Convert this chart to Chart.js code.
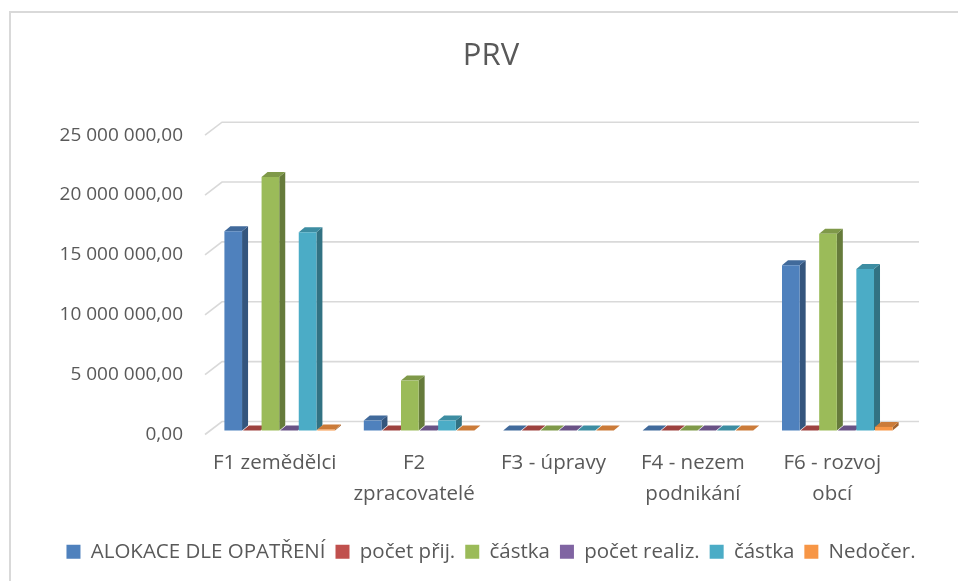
<!DOCTYPE html>
<html>
<head>
<meta charset="utf-8">
<script src="https://cdn.jsdelivr.net/npm/chart.js@4.4.1/dist/chart.umd.min.js"></script>
<style>
  html, body { margin: 0; padding: 0; background: #fff; }
  #wrap { width: 958px; height: 581px; }
</style>
</head>
<body>
<div id="wrap"><canvas id="prvChart" width="958" height="581"></canvas></div>
<script>
// categories (x axis), multi-line where the reference wraps
const categories = [
  ['F1 zemědělci'],
  ['F2', 'zpracovatelé'],
  ['F3 - úpravy'],
  ['F4 - nezem', 'podnikání'],
  ['F6 - rozvoj', 'obcí']
];

// series values
const alokace      = [16640000, 830000, 0, 0, 13800000];
const pocetPrij    = [0, 0, 0, 0, 0];
const castkaPrij   = [21170000, 4170000, 0, 0, 16440000];
const pocetRealiz  = [0, 0, 0, 0, 0];
const castkaRealiz = [16560000, 830000, 0, 0, 13500000];
const nedocer      = [80000, 0, 0, 0, 300000];

const seriesNames  = ['ALOKACE DLE OPATŘENÍ', 'počet přij.', 'částka', 'počet realiz.', 'částka', 'Nedočer.'];
const seriesValues = [alokace, pocetPrij, castkaPrij, pocetRealiz, castkaRealiz, nedocer];
const seriesColors = ['#4f81bd', '#c0504d', '#9bbb59', '#8064a2', '#4bacc6', '#f79646'];

const yMax = 25000000;
const yStep = 5000000;

const TEXT = '#595959';
const FONT = '"Open Sans", "Noto Sans", sans-serif';

// 3D offsets
const BAR_DX = 5, BAR_DY = -4;     // bars sit a bit behind the front plane
const DEPTH_DX = 6, DEPTH_DY = -5; // bar thickness
const WALL_DX = 17, WALL_DY = -13; // back wall
const HEAD_SHIFT = 35;             // title + legend are centred on the whole frame, not the plot

function shade(hex, f) {
  const n = parseInt(hex.slice(1), 16);
  const r = Math.round(((n >> 16) & 255) * f);
  const g = Math.round(((n >> 8) & 255) * f);
  const b = Math.round((n & 255) * f);
  return `rgb(${r},${g},${b})`;
}

function fmt(v) {
  return String(Math.round(v)).replace(/\B(?=(\d{3})+(?!\d))/g, ' ') + ',00';
}

const frame = {
  id: 'frame',
  afterLayout(chart) {
    [chart.titleBlock, chart.legend].forEach(b => {
      if (!b) return;
      b.left += HEAD_SHIFT;
      b.right += HEAD_SHIFT;
    });
  },
  beforeDraw(chart) {
    const ctx = chart.ctx;
    ctx.save();
    ctx.fillStyle = '#fff';
    ctx.fillRect(0, 0, chart.width, chart.height);
    ctx.strokeStyle = '#d9d9d9';
    ctx.lineWidth = 2;
    ctx.strokeRect(10, 12, 1200, 1200);
    ctx.restore();
  }
};

const bars3d = {
  id: 'bars3d',
  beforeDatasetsDraw(chart) {
    const ctx = chart.ctx;
    const area = chart.chartArea;
    const y = chart.scales.y;

    // walls / gridlines
    ctx.save();
    ctx.strokeStyle = '#d9d9d9';
    ctx.lineWidth = 1.6;
    y.ticks.forEach(t => {
      const py = y.getPixelForValue(t.value);
      ctx.beginPath();
      ctx.moveTo(area.left, py);
      ctx.lineTo(area.left + WALL_DX, py + WALL_DY);
      ctx.lineTo(area.right + WALL_DX, py + WALL_DY);
      ctx.stroke();
    });
    ctx.restore();

    // shift bars into the depth, then draw side + top faces
    ctx.save();
    ctx.translate(BAR_DX, BAR_DY);
    chart.data.datasets.forEach((ds, i) => {
      const meta = chart.getDatasetMeta(i);
      const col = seriesColors[i];
      meta.data.forEach(el => {
        const p = el.getProps(['x', 'y', 'base', 'width'], true);
        const l = p.x - p.width / 2, r = p.x + p.width / 2;
        const top = Math.min(p.y, p.base), bot = Math.max(p.y, p.base);
        // side
        ctx.fillStyle = shade(col, 0.66);
        ctx.beginPath();
        ctx.moveTo(r, bot);
        ctx.lineTo(r + DEPTH_DX, bot + DEPTH_DY);
        ctx.lineTo(r + DEPTH_DX, top + DEPTH_DY);
        ctx.lineTo(r, top);
        ctx.closePath();
        ctx.fill();
        // top
        ctx.fillStyle = shade(col, 0.82);
        ctx.beginPath();
        ctx.moveTo(l, top);
        ctx.lineTo(l + DEPTH_DX, top + DEPTH_DY);
        ctx.lineTo(r + DEPTH_DX, top + DEPTH_DY);
        ctx.lineTo(r, top);
        ctx.closePath();
        ctx.fill();
      });
    });
  },
  afterDatasetsDraw(chart) {
    chart.ctx.restore();
  }
};

new Chart(document.getElementById('prvChart'), {
  type: 'bar',
  data: {
    labels: categories,
    datasets: seriesNames.map((name, i) => ({
      label: name,
      data: seriesValues[i],
      backgroundColor: seriesColors[i],
      borderWidth: 0,
      categoryPercentage: 0.8,
      barPercentage: 0.95,
      clip: false
    }))
  },
  options: {
    responsive: false,
    animation: false,
    devicePixelRatio: 1,
    layout: { padding: { left: 10, right: 56, top: 0, bottom: 9 } },
    plugins: {
      title: {
        display: true,
        text: 'PRV',
        color: TEXT,
        font: { family: FONT, size: 31, weight: 'normal' },
        padding: { top: 38, bottom: 60 }
      },
      legend: {
        position: 'bottom',
        labels: {
          color: TEXT,
          font: { family: FONT, size: 20.5 },
          boxWidth: 14,
          boxHeight: 14,
          padding: 10
        }
      },
      tooltip: { enabled: false }
    },
    scales: {
      x: {
        grid: { display: false },
        border: { display: false },
        ticks: {
          color: TEXT,
          font: { family: FONT, size: 20.5, lineHeight: 1.52 },
          maxRotation: 0,
          autoSkip: false,
          padding: 5
        },
        afterFit(s) { s.height = 97; }
      },
      y: {
        min: 0,
        max: yMax,
        grid: { display: false },
        border: { display: false },
        ticks: {
          stepSize: yStep,
          color: TEXT,
          font: { family: FONT, size: 19 },
          padding: 14,
          callback: v => fmt(v)
        },
        afterFit(s) { s.width = 195; }
      }
    }
  },
  plugins: [frame, bars3d]
});
</script>
</body>
</html>
